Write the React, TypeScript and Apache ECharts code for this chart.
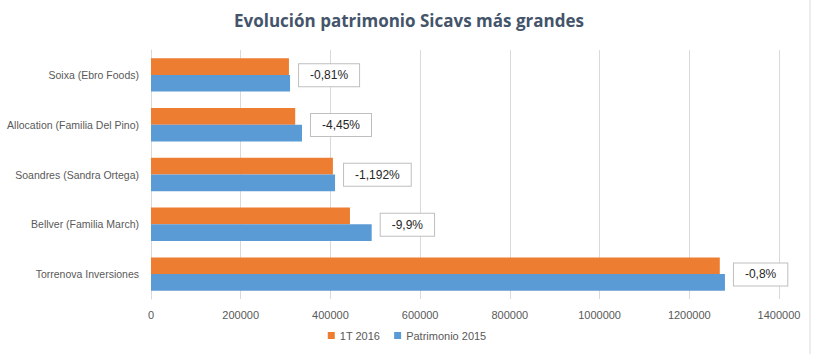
import React, { useEffect, useRef } from "react";
import * as echarts from "echarts";

const categories = [
  "Torrenova Inversiones",
  "Bellver (Familia March)",
  "Soandres (Sandra Ortega)",
  "Allocation (Familia Del Pino)",
  "Soixa (Ebro Foods)",
];
const values2016 = [1268000, 443500, 405500, 321500, 307500];
const values2015 = [1279500, 492000, 410300, 336600, 310000];
const changeLabels = ["-0,8%", "-9,9%", "-1,192%", "-4,45%", "-0,81%"];
const xTicks = { min: 0, max: 1400000, interval: 200000 };

export default function App() {
  const ref = useRef<HTMLDivElement>(null);
  useEffect(() => {
    if (!ref.current) return;
    const chart = echarts.init(ref.current, null, { renderer: "svg" });
    const font = "Liberation Sans";
    chart.setOption({
      animation: false,
      backgroundColor: "#ffffff",
      title: {
        text: "Evolución patrimonio Sicavs más grandes",
        left: 404,
        textAlign: "center",
        top: 7,
        textStyle: { fontFamily: "Open Sans", fontWeight: "bold", fontSize: 17, color: "#44546a" },
      },
      legend: {
        bottom: 8,
        left: "center",
        itemWidth: 7,
        itemHeight: 7,
        itemGap: 14,
        icon: "rect",
        textStyle: { fontFamily: font, fontSize: 11, color: "#595959" },
        data: ["1T 2016", "Patrimonio 2015"],
      },
      grid: { left: 151, right: 35, top: 50, bottom: 55, containLabel: false },
      xAxis: {
        type: "value",
        min: xTicks.min,
        max: xTicks.max,
        interval: xTicks.interval,
        axisLine: { show: false },
        axisTick: { show: false },
        splitLine: { lineStyle: { color: "#d9d9d9" } },
        axisLabel: {
          fontFamily: font,
          fontSize: 11,
          color: "#595959",
          margin: 10,
          formatter: (v: number) => String(v),
        },
      },
      yAxis: {
        type: "category",
        data: categories,
        axisLine: { show: true, lineStyle: { color: "#d9d9d9" } },
        axisTick: { show: false },
        axisLabel: { fontFamily: font, fontSize: 10.5, color: "#595959", margin: 12 },
      },
      series: [
        {
          name: "1T 2016",
          type: "bar",
          data: values2016,
          itemStyle: { color: "#ed7d31" },
          barGap: "0%",
          barCategoryGap: "33%",
        },
        {
          name: "Patrimonio 2015",
          type: "bar",
          data: values2015,
          itemStyle: { color: "#5b9bd5" },
          barGap: "0%",
          barCategoryGap: "33%",
          label: {
            show: true,
            position: "right",
            distance: 9,
            offset: [0, -8],
            formatter: (p: any) => changeLabels[p.dataIndex],
            fontFamily: font,
            fontSize: 12,
            color: "#262626",
            backgroundColor: "#ffffff",
            borderColor: "#bfbfbf",
            borderWidth: 1,
            padding: [5, 11, 5, 11],
          },
        },
      ],
      graphic: [
        { type: "line", shape: { x1: 810, y1: 0, x2: 810, y2: 354 }, style: { stroke: "#d9d9d9", lineWidth: 1 } },
      ],
    });
    return () => chart.dispose();
  }, []);
  return <div ref={ref} style={{ position: "absolute", left: 0, top: 0, width: 814, height: 354 }} />;
}
